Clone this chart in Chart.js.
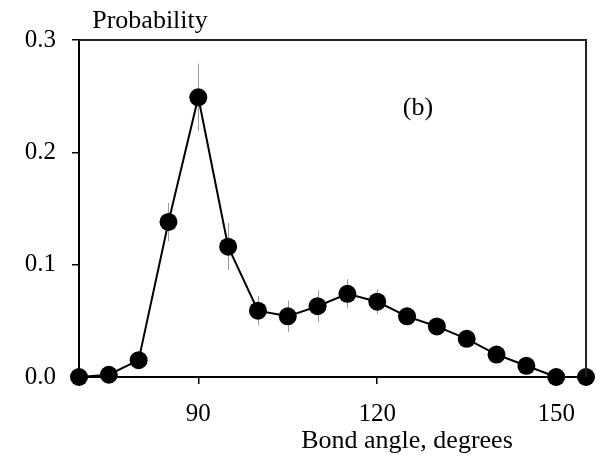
<!DOCTYPE html>
<html>
<head>
<meta charset="utf-8">
<script src="https://cdn.jsdelivr.net/npm/chart.js@4/dist/chart.umd.min.js"></script>
<style>
  html, body { margin: 0; padding: 0; background: #fff; }
  #wrap { width: 604px; height: 458px; }
</style>
</head>
<body>
<div id="wrap"><canvas id="chart" width="604" height="458"></canvas></div>
<script>
// bond angle (degrees) and probability
const angles = [70, 75, 80, 85, 90, 95, 100, 105, 110, 115, 120, 125, 130, 135, 140, 145, 150, 155];
const probability = [0, 0.002, 0.015, 0.138, 0.249, 0.116, 0.059, 0.054, 0.063, 0.074, 0.067, 0.054, 0.045, 0.034, 0.020, 0.010, 0, 0];
const errors = [0, 0, 0, 0.017, 0.03, 0.021, 0.013, 0.014, 0.014, 0.013, 0.011, 0.006, 0.005, 0.004, 0.003, 0.002, 0, 0];
const xTicks = [90, 120, 150];
const yTicks = [0, 0.1, 0.2, 0.3];

const serif = 'Liberation Serif';

const errorBars = {
  id: 'errorBars',
  beforeDatasetsDraw(chart) {
    const { ctx, scales: { x, y } } = chart;
    ctx.save();
    ctx.strokeStyle = '#9a9a9a';
    ctx.lineWidth = 1;
    angles.forEach((a, i) => {
      if (!errors[i]) return;
      const px = Math.round(x.getPixelForValue(a)) + 0.5;
      ctx.beginPath();
      ctx.moveTo(px, y.getPixelForValue(probability[i] + errors[i]));
      ctx.lineTo(px, y.getPixelForValue(probability[i] - errors[i]));
      ctx.stroke();
    });
    ctx.restore();
  }
};

const frameAndText = {
  id: 'frameAndText',
  afterDraw(chart) {
    const { ctx, chartArea: a } = chart;
    ctx.save();
    ctx.strokeStyle = '#222';
    ctx.lineWidth = 2;
    ctx.beginPath();
    ctx.moveTo(a.left, a.top);
    ctx.lineTo(a.right, a.top);
    ctx.lineTo(a.right, a.bottom);
    ctx.stroke();

    ctx.fillStyle = '#000';
    ctx.textAlign = 'center';
    ctx.textBaseline = 'alphabetic';
    ctx.font = '26px "' + serif + '"';
    ctx.fillText('Probability', 150, 28);
    ctx.fillText('(b)', 418, 115);
    ctx.fillText('Bond angle, degrees', 407, 448);
    ctx.restore();
  }
};

new Chart(document.getElementById('chart'), {
  type: 'scatter',
  data: {
    datasets: [{
      data: angles.map((a, i) => ({ x: a, y: probability[i] })),
      showLine: true,
      borderColor: '#000',
      borderWidth: 2,
      pointRadius: 9,
      pointBackgroundColor: '#000',
      pointBorderColor: '#000',
      pointBorderWidth: 0,
      clip: false
    }]
  },
  options: {
    responsive: false,
    animation: false,
    layout: { padding: { top: 40, right: 18, left: 0, bottom: 0 } },
    plugins: {
      legend: { display: false },
      tooltip: { enabled: false }
    },
    scales: {
      x: {
        type: 'linear',
        min: 70,
        max: 155,
        afterBuildTicks: (scale) => { scale.ticks = xTicks.map(v => ({ value: v })); },
        afterFit: (scale) => { scale.height = 81; },
        grid: { drawOnChartArea: false, drawTicks: true, tickLength: 7, color: '#000', lineWidth: 1.5 },
        border: { display: true, color: '#000', width: 2 },
        ticks: {
          color: '#000',
          padding: 15,
          maxRotation: 0,
          font: { family: serif, size: 25 },
          callback: (v) => String(v)
        }
      },
      y: {
        min: 0,
        max: 0.3,
        afterBuildTicks: (scale) => { scale.ticks = yTicks.map(v => ({ value: v })); },
        afterFit: (scale) => { scale.width = 79; },
        grid: { drawOnChartArea: false, drawTicks: true, tickLength: 7, color: '#000', lineWidth: 1.5 },
        border: { display: true, color: '#000', width: 2 },
        ticks: {
          color: '#000',
          padding: 16,
          font: { family: serif, size: 25 },
          callback: (v) => v.toFixed(1)
        }
      }
    }
  },
  plugins: [errorBars, frameAndText]
});
</script>
</body>
</html>
